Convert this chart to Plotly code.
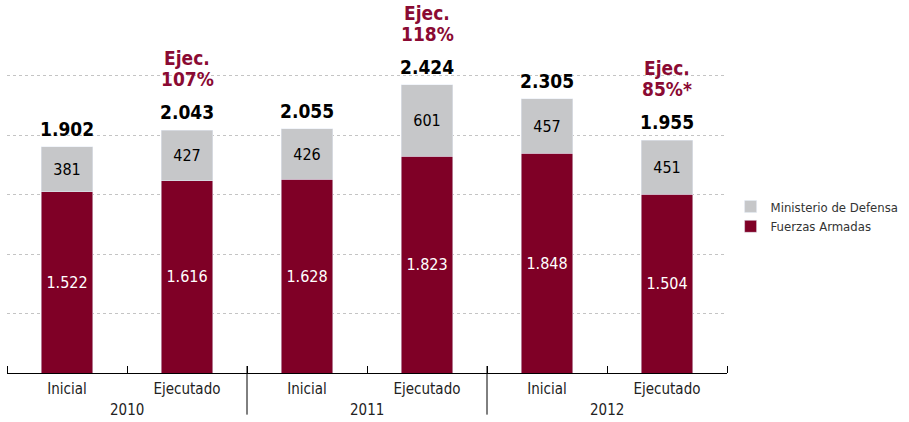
import plotly.graph_objects as go

years = ["2010", "2010", "2011", "2011", "2012", "2012"]
stages = ["Inicial", "Ejecutado", "Inicial", "Ejecutado", "Inicial", "Ejecutado"]
fuerzas_armadas = [1522, 1616, 1628, 1823, 1848, 1504]
ministerio = [381, 427, 426, 601, 457, 451]
totals = [1902, 2043, 2055, 2424, 2305, 1955]
exec_pct = ["", "107%", "", "118%", "", "85%*"]

RED = "#7f0026"
GRAY = "#c6c7c9"
FONT = "DejaVu Sans Condensed, Liberation Sans Narrow, sans-serif"

pos = list(range(len(stages)))

fig = go.Figure()
fig.add_trace(go.Bar(
    x=pos, y=fuerzas_armadas, name="Fuerzas Armadas", marker_color=RED,
    width=0.43, texttemplate="%{y:,}", textposition="inside", textangle=0,
    insidetextanchor="middle", constraintext="none",
    textfont=dict(color="white", size=16, family=FONT),
    legendrank=2,
))
fig.add_trace(go.Bar(
    x=pos, y=ministerio, name="Ministerio de Defensa", marker_color=GRAY,
    width=0.43, texttemplate="%{y:,}", textposition="inside", textangle=0,
    insidetextanchor="middle", constraintext="none",
    textfont=dict(color="black", size=16, family=FONT),
    legendrank=1,
))

annotations = []
for i, t in enumerate(totals):
    annotations.append(dict(
        x=i, y=t, xref="x", yref="y", text=f"<b>{t:,}</b>".replace(",", "."),
        showarrow=False, yanchor="middle", yshift=18,
        font=dict(size=19, color="black", family=FONT),
    ))
    if exec_pct[i]:
        annotations.append(dict(
            x=i, y=t, xref="x", yref="y", text=f"<b>{exec_pct[i]}</b>",
            showarrow=False, yanchor="middle", yshift=51,
            font=dict(size=19, color="#8a0a33", family=FONT),
        ))
        annotations.append(dict(
            x=i, y=t, xref="x", yref="y", text="<b>Ejec.</b>",
            showarrow=False, yanchor="middle", yshift=72,
            font=dict(size=19, color="#8a0a33", family=FONT),
        ))

# year labels centred under each pair of bars, with separators between years
shapes = []
unique_years = list(dict.fromkeys(years))
for k, yr in enumerate(unique_years):
    idx = [i for i, y in enumerate(years) if y == yr]
    annotations.append(dict(
        x=sum(idx) / len(idx), y=0, xref="x", yref="paper", text=yr,
        showarrow=False, yanchor="middle", yshift=-37,
        font=dict(size=15, color="#222", family=FONT),
    ))
    if k > 0:
        shapes.append(dict(
            type="line", xref="x", yref="paper", x0=idx[0] - 0.5, x1=idx[0] - 0.5,
            y0=0.021, y1=-0.125, line=dict(color="black", width=1),
        ))

fig.update_layout(
    width=909, height=422,
    margin=dict(l=7, r=182, t=40, b=49, autoexpand=False),
    barmode="stack",
    separators=",.",
    plot_bgcolor="white", paper_bgcolor="white",
    font=dict(family=FONT, size=15, color="#222"),
    showlegend=True,
    legend=dict(
        x=1.005, y=0.47, xanchor="left", yanchor="middle",
        traceorder="normal", font=dict(size=13, color="#333", family=FONT),
        bgcolor="rgba(0,0,0,0)",
    ),
    annotations=annotations,
    shapes=shapes,
)
fig.update_xaxes(
    range=[-0.5, len(stages) - 0.5],
    tickmode="array", tickvals=pos, ticktext=stages,
    showline=True, linecolor="black", linewidth=1,
    ticks="", ticklabelstandoff=2,
    minor=dict(ticks="inside", ticklen=7, tickcolor="black", tickmode="linear",
               tick0=-0.5, dtick=1, showgrid=False),
    tickfont=dict(size=15, color="#222", family=FONT),
    showgrid=False, zeroline=False, fixedrange=True,
)
fig.update_yaxes(
    range=[0, 2800], dtick=500, showgrid=True, gridcolor="#c4c4c4",
    griddash="dot", gridwidth=1, showticklabels=False, zeroline=False,
    showline=False, fixedrange=True,
)

# remove the browser's default 8px body margin so the figure fills the window
fig.write_html(
    "out.html",
    config={"displayModeBar": False},
    post_script="document.body.style.margin='0';",
)
